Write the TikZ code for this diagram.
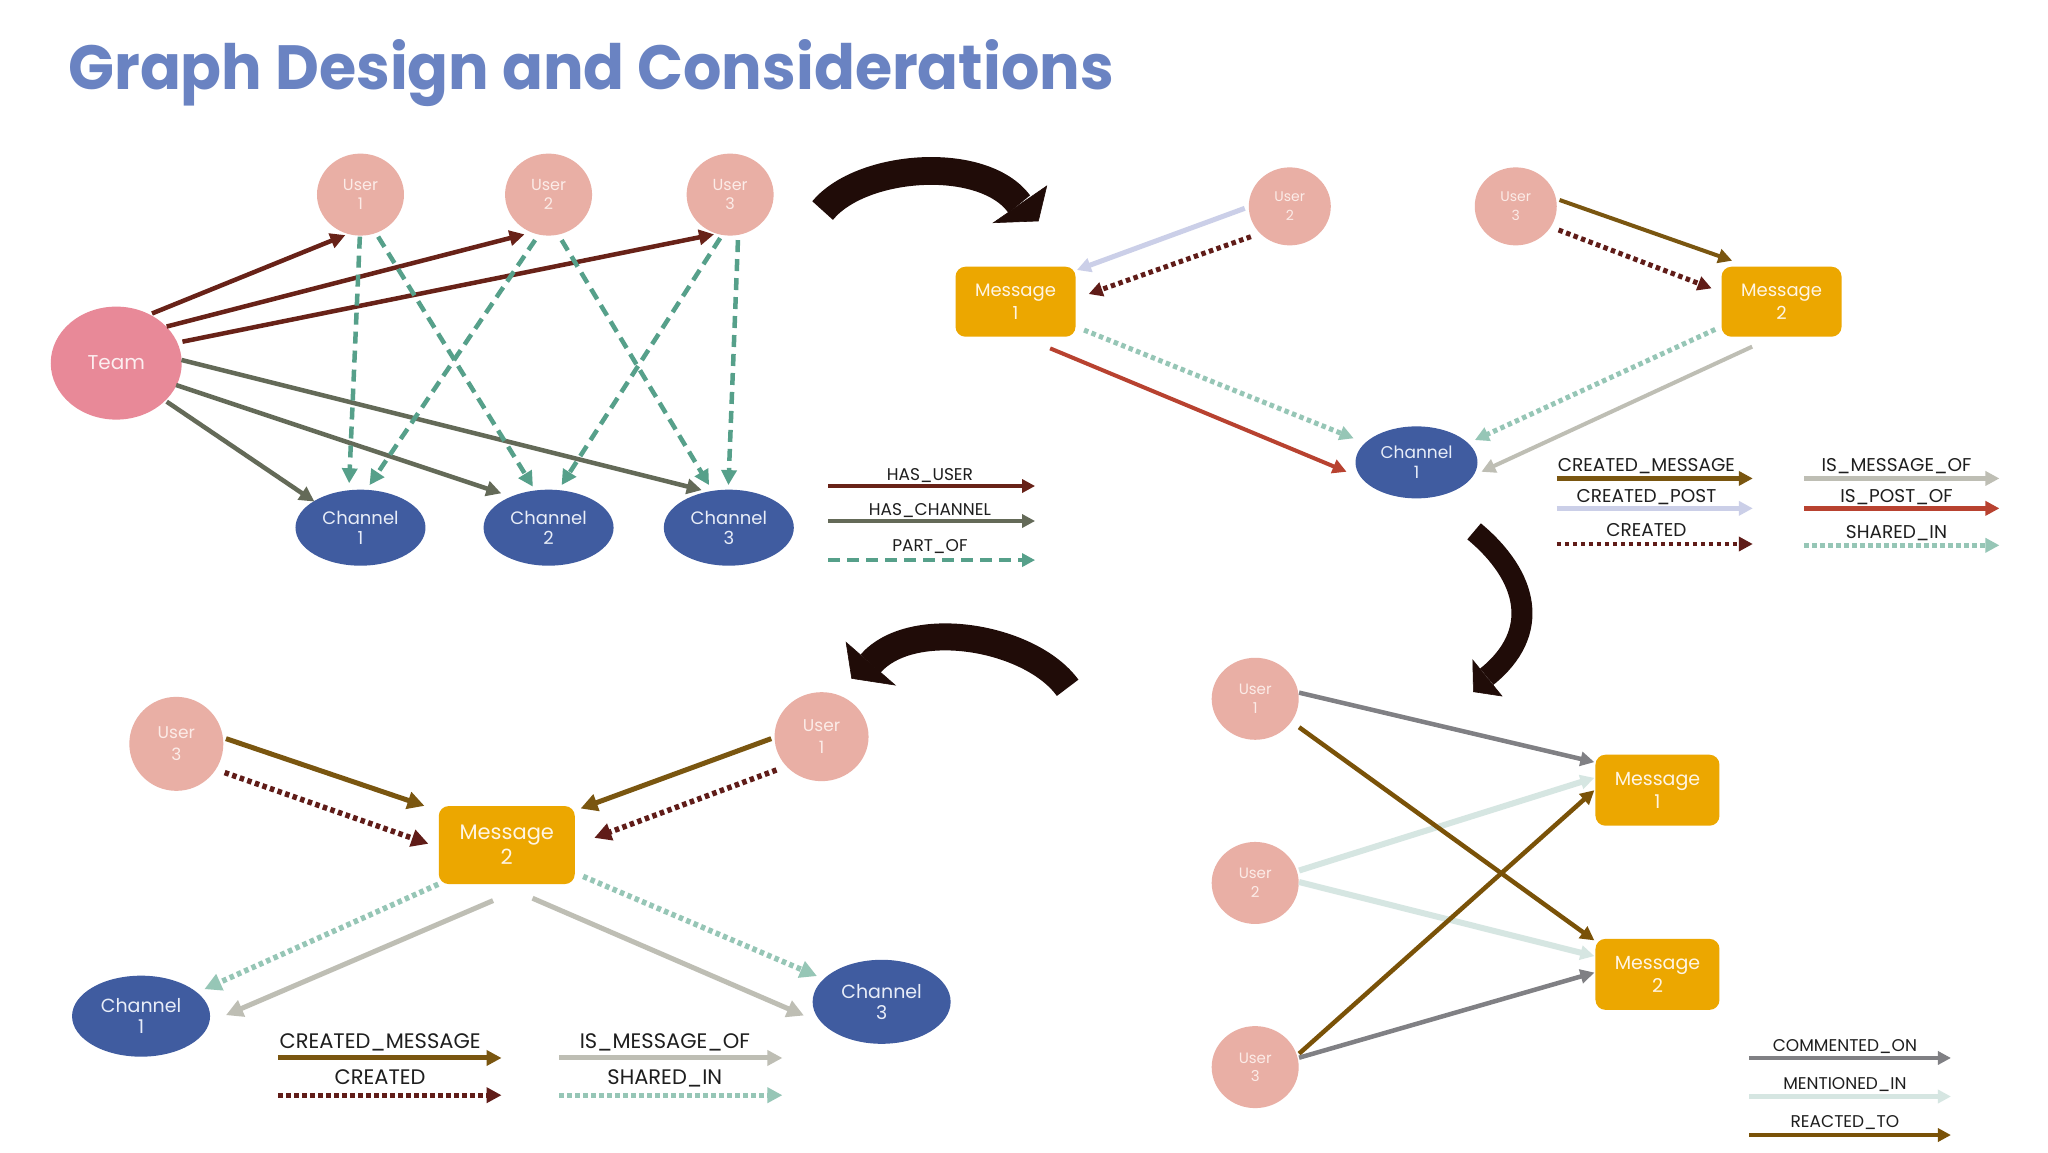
\documentclass[tikz,border=0pt]{standalone}
\usepackage{graphicx}
\usepackage{fontspec}
\setmainfont{Poppins}
\newfontfamily\legfont{Poppins}
\usetikzlibrary{arrows.meta,calc,shapes.geometric}

\definecolor{cTitle}{RGB}{106,131,194}
\definecolor{cTeam}{RGB}{232,137,152}
\definecolor{cUser}{RGB}{233,175,165}
\definecolor{cChan}{RGB}{64,92,160}
\definecolor{cMsg}{RGB}{236,167,0}
\definecolor{tUser}{RGB}{252,236,232}
\definecolor{tTeam}{RGB}{252,238,240}
\definecolor{tChan}{RGB}{232,237,248}
\definecolor{tMsg}{RGB}{255,245,228}
\definecolor{cHU}{RGB}{104,34,24}
\definecolor{cHC}{RGB}{100,106,88}
\definecolor{cPO}{RGB}{86,160,138}
\definecolor{cCM}{RGB}{122,86,16}
\definecolor{cCP}{RGB}{203,207,232}
\definecolor{cCR}{RGB}{96,28,24}
\definecolor{cIMO}{RGB}{190,190,180}
\definecolor{cIPO}{RGB}{184,66,48}
\definecolor{cSH}{RGB}{150,198,182}
\definecolor{cCO}{RGB}{128,128,132}
\definecolor{cMI}{RGB}{214,230,226}
\definecolor{cRT}{RGB}{122,82,8}
\definecolor{cBig}{RGB}{32,12,8}
\definecolor{cLeg}{RGB}{30,30,30}

\tikzset{
  nd/.style={inner sep=0pt, outer sep=0pt, align=center},
  usr/.style={nd, ellipse, fill=cUser, text=tUser},
  chn/.style={nd, ellipse, fill=cChan, text=tChan},
  msg/.style={nd, rectangle, rounded corners=10pt, fill=cMsg, text=tMsg},
  teamnode/.style={nd, ellipse, fill=cTeam, text=tTeam},
  headsz/.style={-{Triangle[length=#1,width=#1]}},
  lwd/.style={line width=#1},
  dotp/.style={dash pattern=on 4.5pt off 3.5pt},
  dashp/.style={dash pattern=on 12pt off 7pt},
  fs/.style 2 args={font=\fontsize{#1}{#2}\selectfont},
  legfs/.style={font=\legfont\fontsize{#1}{#1}\selectfont},
  legtext/.style={text=cLeg, inner sep=0pt},
}

% legend item: name, x1, x2, arrow y, style, text x, text baseline y, text
\newcommand\legitem[8]{%
  \coordinate (#1a) at (#2,#4);
  \coordinate (#1b) at (#3,#4);
  \draw[#5] (#1a) -- (#1b);
  \node[legtext, anchor=base] (#1t) at (#6,#7) {#8};
}

\begin{document}
\begin{tikzpicture}[x=1.30612pt,y=-1.30612pt]
\fill[white] (0,0) rectangle (1568,882);
\useasboundingbox (0,0) rectangle (1568,882);

% title
\node[anchor=base west, inner sep=0pt, text=cTitle] (title) at (52.1,68.4)
  {\resizebox{1045pt}{50pt}{\bfseries Graph Design and Considerations}};

% ---------------- big curved arrows ----------------
\draw[cBig, line width=27.8pt] (629.8,161.2) .. controls (659.6,125.1) and (752.8,118.5) .. (780.4,156.3);
\filldraw[cBig, line width=0.6pt] (801.4,142.4) -- (760.6,170.5) -- (795,169.2) -- cycle;
\draw[cBig, line width=21pt] (1128.6,406.8) .. controls (1170.1,441.4) and (1180.4,484.2) .. (1138.3,518.1);
\filldraw[cBig, line width=0.6pt] (1127.6,505.4) -- (1149.9,532.9) -- (1128.1,529.6) -- cycle;
\draw[cBig, line width=27pt] (817.4,526.6) .. controls (789.0,487.4) and (698.2,471.7) .. (666.4,508.2);
\filldraw[cBig, line width=0.6pt] (647.8,491.8) -- (685.3,524.5) -- (652.1,519.4) -- cycle;

% ---------------- panel 1 ----------------
\node[teamnode, minimum width=131pt, minimum height=113pt, fs={20}{24}] (team) at (89,278) {Team};
\node[usr, minimum width=87pt, minimum height=82pt, fs={16}{19.5}] (pu1) at (276,149) {User\\1};
\node[usr, minimum width=87pt, minimum height=82pt, fs={16}{19.5}] (pu2) at (420,149) {User\\2};
\node[usr, minimum width=87pt, minimum height=82pt, fs={16}{19.5}] (pu3) at (559,149) {User\\3};
\node[chn, minimum width=130pt, minimum height=76pt, fs={18}{19.5}] (pc1) at (276,404) {Channel\\1};
\node[chn, minimum width=130pt, minimum height=76pt, fs={18}{19.5}] (pc2) at (420,404) {Channel\\2};
\node[chn, minimum width=130pt, minimum height=76pt, fs={18}{19.5}] (pc3) at (558,404) {Channel\\3};

\begin{scope}[lwd=4.5pt, headsz=15pt]
\draw[cHU] ($(team)+(27.4,-38)$) -- ($(pu1)+(-11.6,31)$);
\draw[cHU] ($(team)+(38.6,-28)$) -- ($(pu2)+(-18.4,30.4)$);
\draw[cHU] ($(team)+(50.7,-16.4)$) -- ($(pu3)+(-12.3,30.4)$);
\draw[cHC] ($(team)+(38.6,29.5)$) -- ($(pc1)+(-35.3,-20)$);
\draw[cHC] ($(team)+(45.8,16.8)$) -- ($(pc2)+(-36.2,-26.3)$);
\draw[cHC] ($(team)+(50,-2.4)$) -- ($(pc3)+(-20.7,-28.8)$);
\draw[cPO, dashp] ($(pu1)+(-0.5,32.2)$) -- ($(pc1)+(-8.7,-34)$);
\draw[cPO, dashp] ($(pu1)+(13.5,32.2)$) -- ($(pc2)+(-12,-31.4)$);
\draw[cPO, dashp] ($(pu2)+(-10.3,34.8)$) -- ($(pc1)+(6.9,-32.6)$);
\draw[cPO, dashp] ($(pu2)+(10,34.8)$) -- ($(pc3)+(-15.1,-32.6)$);
\draw[cPO, dashp] ($(pu3)+(-7.6,33.3)$) -- ($(pc2)+(10,-32.6)$);
\draw[cPO, dashp] ($(pu3)+(6,34.8)$) -- ($(pc3)+(-0.3,-32.6)$);
\end{scope}

\tikzset{legtext/.append style={legfs=17}}
\legitem{lhu}{634.3}{792.5}{372.1}{cHU, lwd=4.5pt, headsz=13pt}{712}{368}{HAS\_USER}
\legitem{lhc}{634.3}{792.5}{398.9}{cHC, lwd=4.5pt, headsz=13pt}{712}{394.3}{HAS\_CHANNEL}
\legitem{lpo}{634.3}{792.5}{428.8}{cPO, lwd=4.5pt, headsz=13pt, dashp}{712}{421.9}{PART\_OF}

% ---------------- panel 2 ----------------
\node[msg, minimum width=120pt, minimum height=70pt, fs={18}{23.5}] (m1a) at (777.5,231) {Message\\1};
\node[usr, minimum width=82pt, minimum height=78pt, fs={14}{19}] (u2a) at (987.5,158) {User\\2};
\node[usr, minimum width=82pt, minimum height=78pt, fs={14}{19}] (u3a) at (1160.5,158) {User\\3};
\node[msg, minimum width=120pt, minimum height=70pt, fs={18}{23.5}] (m2a) at (1364,231) {Message\\2};
\node[chn, minimum width=122pt, minimum height=72pt, fs={17}{20}] (c1a) at (1084.5,354) {Channel\\1};

\begin{scope}[lwd=4pt, headsz=14pt]
\draw[cCP, lwd=5pt] ($(u2a)+(-34.5,1.5)$) -- ($(m1a)+(47,-24.3)$);
\draw[cCR, lwd=5pt, dotp] ($(u2a)+(-29.8,23.2)$) -- ($(m1a)+(56,-5.9)$);
\draw[cSH, lwd=5pt, dotp] ($(m1a)+(52.5,21.7)$) -- ($(c1a)+(-48.1,-18.4)$);
\draw[cIPO] ($(m1a)+(26.5,35.7)$) -- ($(c1a)+(-53.5,7.2)$);
\draw[cCM] ($(u3a)+(33.5,-4.9)$) -- ($(m2a)+(-37.8,-31.4)$);
\draw[cCR, lwd=5pt, dotp] ($(u3a)+(32.8,18.1)$) -- ($(m2a)+(-53.5,-10.2)$);
\draw[cSH, lwd=5pt, dotp] ($(m2a)+(-50.8,21.2)$) -- ($(c1a)+(44.7,-17.1)$);
\draw[cIMO] ($(m2a)+(-22.5,34.4)$) -- ($(c1a)+(49.7,7.2)$);
\end{scope}

\tikzset{legtext/.append style={legfs=18.5}}
\legitem{lcm}{1192}{1342}{366.3}{cCM, lwd=4.5pt, headsz=14pt}{1260.5}{361.2}{CREATED\_MESSAGE}
\legitem{lcp}{1192}{1342}{389.2}{cCP, lwd=4.5pt, headsz=14pt}{1260.5}{384.9}{CREATED\_POST}
\legitem{lcr}{1192}{1342}{416.5}{cCR, lwd=4.5pt, headsz=14pt, dotp}{1260.5}{410.4}{CREATED}
\legitem{lim}{1381.4}{1530.8}{366.3}{cIMO, lwd=4.5pt, headsz=14pt}{1452}{361.2}{IS\_MESSAGE\_OF}
\legitem{lip}{1381.4}{1530.8}{389.2}{cIPO, lwd=4.5pt, headsz=14pt}{1452}{384.9}{IS\_POST\_OF}
\legitem{lsh}{1381.4}{1530.8}{417.5}{cSH, lwd=4.5pt, headsz=14pt, dotp}{1452}{412.2}{SHARED\_IN}

% ---------------- panel 4 (bottom right) ----------------
\node[usr, minimum width=87pt, minimum height=82pt, fs={15}{18.5}] (v1) at (961,535) {User\\1};
\node[usr, minimum width=87pt, minimum height=82pt, fs={15}{18.5}] (v2) at (961,676) {User\\2};
\node[usr, minimum width=87pt, minimum height=82pt, fs={15}{18.5}] (v3) at (961,817) {User\\3};
\node[msg, minimum width=124pt, minimum height=71pt, fs={19}{22.6}] (n1) at (1269,605) {Message\\1};
\node[msg, minimum width=124pt, minimum height=71pt, fs={19}{22.6}] (n2) at (1269,746) {Message\\2};

\begin{scope}[lwd=4.5pt, headsz=14pt]
\draw[cMI, lwd=6pt] ($(v2)+(33.6,-9.5)$) -- ($(n1)+(-48.3,-9.5)$);
\draw[cMI, lwd=6pt] ($(v2)+(33.6,-0.7)$) -- ($(n2)+(-48.3,-14)$);
\draw[cCO] ($(v1)+(33.6,-4.7)$) -- ($(n1)+(-48.3,-21.5)$);
\draw[cRT] ($(v1)+(33.6,21.8)$) -- ($(n2)+(-48.3,-26)$);
\draw[cRT] ($(v3)+(33.6,-10.3)$) -- ($(n1)+(-48.3,0)$);
\draw[cCO] ($(v3)+(33.6,-7.2)$) -- ($(n2)+(-48.3,-1.4)$);
\end{scope}

\tikzset{legtext/.append style={legfs=17}}
\legitem{lco}{1339.4}{1493.7}{810}{cCO, lwd=4.5pt, headsz=13pt}{1412.5}{805}{COMMENTED\_ON}
\legitem{lmi}{1339.4}{1493.7}{839.5}{cMI, lwd=5pt, headsz=13pt}{1412.5}{834.5}{MENTIONED\_IN}
\legitem{lrt}{1339.4}{1493.7}{869}{cRT, lwd=4.5pt, headsz=13pt}{1412.5}{863.5}{REACTED\_TO}

% ---------------- panel 3 (bottom left) ----------------
\node[usr, minimum width=94pt, minimum height=94pt, fs={17}{22}] (w3) at (135,569.5) {User\\3};
\node[usr, minimum width=94pt, minimum height=89pt, fs={17}{22}] (w1) at (629,564) {User\\1};
\node[msg, minimum width=136pt, minimum height=78pt, fs={21}{25}] (mm2) at (388,647) {Message\\2};
\node[chn, minimum width=138pt, minimum height=81pt, fs={19}{21}] (cc1) at (108,778) {Channel\\1};
\node[chn, minimum width=138pt, minimum height=84pt, fs={19}{21}] (cc3) at (675,767) {Channel\\3};

\begin{scope}[lwd=5pt, headsz=17pt]
\draw[cCM] ($(w3)+(38,-4)$) -- ($(mm2)+(-63,-30)$);
\draw[cCR, lwd=5.5pt, dotp] ($(w3)+(37,22)$) -- ($(mm2)+(-60,-1)$);
\draw[cCM] ($(w1)+(-38.5,1.5)$) -- ($(mm2)+(56.5,-28)$);
\draw[cCR, lwd=5.5pt, dotp] ($(w1)+(-34.5,25.5)$) -- ($(mm2)+(67,-5.5)$);
\draw[cSH, lwd=5.5pt, dotp] ($(mm2)+(-52.5,30)$) -- ($(cc1)+(48.5,-20.7)$);
\draw[cIMO] ($(mm2)+(-10.5,42.5)$) -- ($(cc1)+(65,-0.8)$);
\draw[cSH, lwd=5.5pt, dotp] ($(mm2)+(58.5,24)$) -- ($(cc3)+(-49.5,-19.7)$);
\draw[cIMO] ($(mm2)+(19.7,40.7)$) -- ($(cc3)+(-59.5,10.5)$);
\end{scope}

\tikzset{legtext/.append style={legfs=21}}
\legitem{mcm}{213}{384}{810}{cCM, lwd=5pt, headsz=15pt}{291}{803}{CREATED\_MESSAGE}
\legitem{mcr}{213}{384}{838.5}{cCR, lwd=5pt, headsz=15pt, dotp}{291}{830}{CREATED}
\legitem{mim}{428}{599}{810}{cIMO, lwd=5pt, headsz=15pt}{509}{803}{IS\_MESSAGE\_OF}
\legitem{msh}{428}{599}{838.5}{cSH, lwd=5pt, headsz=15pt, dotp}{509}{830}{SHARED\_IN}

\end{tikzpicture}
\end{document}
